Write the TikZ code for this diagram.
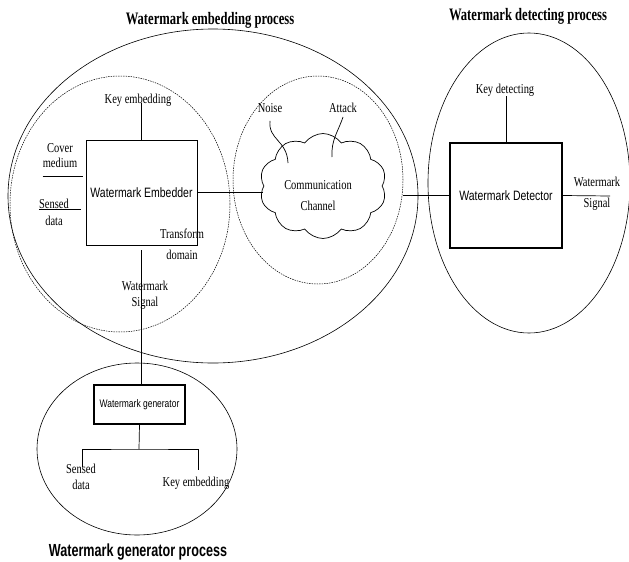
\documentclass[tikz,border=0pt]{standalone}
\usepackage{fontspec}
\setmainfont{Liberation Serif}
\setsansfont{Liberation Sans}
\newfontfamily\tallserif{Liberation Serif}[FakeStretch=0.77]
\newfontfamily\tallsans{Liberation Sans}[FakeStretch=0.77]
\newfontfamily\ttlserif{Liberation Serif}[FakeStretch=0.72]
\newfontfamily\ttlsans{Liberation Sans}[FakeStretch=0.72]
\usetikzlibrary{positioning, shapes.geometric, shapes.symbols}

\begin{document}
\begin{tikzpicture}[x=1pt, y=-1pt,
  lbl/.style={font=\tallserif\fontsize{13.6}{16}\selectfont, align=center, inner sep=0pt},
  lbl wide/.style={font=\tallserif\fontsize{13.6}{21}\selectfont, align=center, inner sep=0pt},
  ttl/.style={font=\ttlserif\bfseries\fontsize{17.5}{19}\selectfont, inner sep=0pt},
  zone/.style={draw, ellipse, line width=0.6pt, inner sep=0pt},
  subzone/.style={draw, ellipse, line width=0.5pt, dash pattern=on 1.5pt off 1pt, inner sep=0pt},
  blk/.style={draw, line width=0.7pt, font=\tallsans\fontsize{13.6}{15}\selectfont, inner sep=0pt},
  wire/.style={line width=0.7pt}]
  \useasboundingbox (0,0) rectangle (629,562);

  % Titles
  \node[ttl] (embtitle) at (210,20) {Watermark embedding process};
  \node[ttl] (dettitle) at (528,16) {Watermark detecting process};
  \node[ttl, font=\ttlsans\bfseries\fontsize{17.5}{19}\selectfont] (gentitle) at (138,552) {Watermark generator process};

  % Process zones
  \node[zone, minimum width=410pt, minimum height=334pt] (embzone) at (213,196) {};
  \node[subzone, minimum width=220pt, minimum height=256pt] (embsub) at (120,204) {};
  \node[subzone, minimum width=170pt, minimum height=208pt] (chanzone) at (318,180) {};
  \node[zone, minimum width=202pt, minimum height=300pt] (detzone) at (529,183) {};
  \node[zone, minimum width=200pt, minimum height=172pt] (genzone) at (137,449) {};

  % Blocks
  \node[blk, minimum width=111pt, minimum height=105pt] (embedder) at (141.5,192.5) {Watermark Embedder};
  \node[blk, line width=1.2pt, minimum width=112pt, minimum height=105pt] (detector) at (506,195.5) {Watermark Detector};
  \node[blk, line width=1.2pt, minimum width=91pt, minimum height=39pt, font=\tallsans\fontsize{11}{12}\selectfont] (generator) at (139.5,404.5) {Watermark generator};
  \node[draw, cloud, cloud puffs=10, cloud puff arc=110, aspect=1.25, minimum width=127pt, minimum height=105pt, line width=0.7pt] (channel) at (323,186) {};
  \node[lbl wide] (chanlbl) at (318,196) {Communication\\Channel};

  % Labels
  \node[lbl] (keyemb) at (138,100) {Key embedding};
  \node[lbl, font=\tallserif\fontsize{13.6}{15}\selectfont] (cover) at (60,156) {Cover\\medium};
  \node[lbl, font=\tallserif\fontsize{13.6}{17}\selectfont] (sensed) at (54,212) {Sensed\\data};
  \node[lbl wide] (transform) at (182,244) {Transform\\domain};
  \node[lbl] (wmsig) at (145,295) {Watermark\\Signal};
  \node[lbl] (noise) at (270,108) {Noise};
  \node[lbl] (attack) at (343,108) {Attack};
  \node[lbl] (keydet) at (505,90) {Key detecting};
  \node[lbl wide] (wmsigout) at (597,194) {Watermark\\Signal};
  \node[lbl] (gsensed) at (81,477) {Sensed\\data};
  \node[lbl] (gkey) at (196,483) {Key embedding};

  % Free ends
  \coordinate (coverin) at (83,176);
  \coordinate (sensedin) at (81,209);
  \coordinate (noisetip) at (288,163);
  \coordinate (attacktip) at (332,157);
  \coordinate (wmout) at (610,196);
  \coordinate (split) at (139,449);
  \coordinate (sensedtip) at (82,467);
  \coordinate (keytip) at (198,470);

  % Embedder inputs and outputs
  \draw[wire] (keyemb.base -| embedder.north) -- (embedder.north);
  \draw[wire] (cover.west |- coverin) -- (coverin);
  \draw[wire] (sensed.west |- sensedin) -- (sensedin);
  \draw[wire] (embedder.east) -- (embedder.east -| channel.west);
  \draw[wire] ([yshift=-5pt]embedder.south) -- (embedder.south |- generator.north);

  % Channel disturbances
  \draw[wire] ([yshift=-8pt]noise.south) .. controls (268,140) and (287,140) .. (noisetip);
  \draw[wire] ([yshift=-4pt]attack.south) .. controls (338,132) and (331,140) .. (attacktip);

  % Detector side
  \draw[wire] (detector.west) -- (detector.west -| chanzone.east);
  \draw[wire] (keydet.south -| detector.north) -- (detector.north);
  \draw[wire] (detector.east) -- (wmout);

  % Generator branches
  \draw[wire] (generator.south) -- (split);
  \draw[wire] (sensedtip) |- (split) -| (keytip);
\end{tikzpicture}
\end{document}
